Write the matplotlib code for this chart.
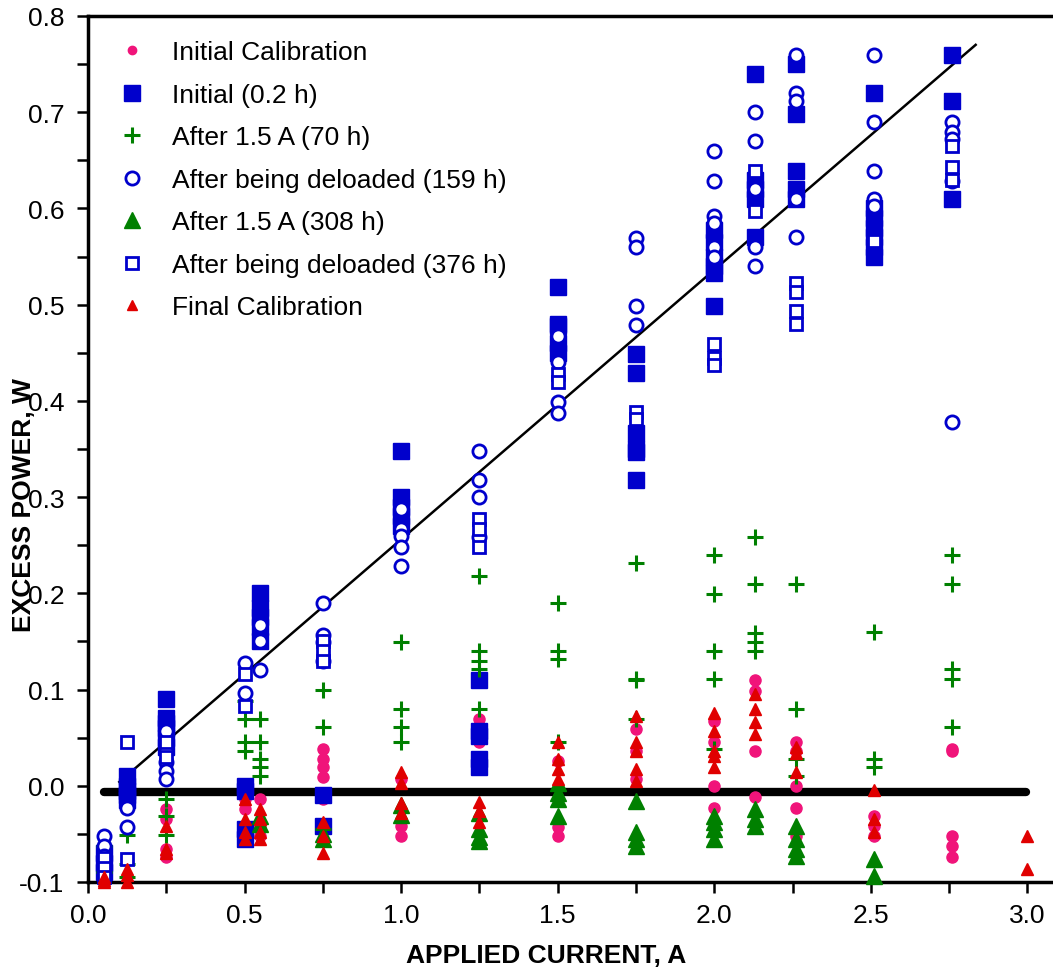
import matplotlib
matplotlib.use("Agg")
import matplotlib.pyplot as plt
from matplotlib.ticker import MultipleLocator, FormatStrFormatter

plt.rcParams['font.family'] = ['Liberation Sans', 'DejaVu Sans']

### Data (excess power in W, keyed by applied current in A)
init_cal = {0.25: [-0.024, -0.035, -0.066, -0.074],
            0.5: [0.0, -0.014, -0.024],
            0.55: [-0.014, -0.043, -0.052],
            0.75: [0.038, 0.028, 0.019, 0.009, -0.014],
            1.0: [0.007, -0.042, -0.052],
            1.25: [0.069, 0.059, 0.046],
            1.5: [0.026, -0.043, -0.052],
            1.75: [0.059, 0.036, 0.007],
            2.0: [0.067, 0.046, 0.0, -0.023],
            2.13: [0.11, 0.098, 0.036, -0.012],
            2.26: [0.046, 0.036, 0.0, -0.023, -0.052],
            2.51: [-0.031, -0.042, -0.052],
            2.76: [0.038, 0.036, -0.052, -0.063, -0.074]}

initial_02h = {0.05: [-0.07, -0.08, -0.09],
               0.125: [0.01, 0.0, -0.005, -0.01, -0.015],
               0.25: [0.09, 0.07, 0.065, 0.06, 0.05, 0.04],
               0.5: [0.0, -0.005, -0.045, -0.055],
               0.55: [0.2, 0.185, 0.175, 0.165, 0.15],
               0.75: [-0.01, -0.042],
               1.0: [0.348, 0.3, 0.29, 0.28, 0.27],
               1.25: [0.11, 0.057, 0.052, 0.028, 0.02],
               1.5: [0.518, 0.48, 0.478, 0.46, 0.45],
               1.75: [0.449, 0.429, 0.367, 0.35, 0.347, 0.318],
               2.0: [0.578, 0.565, 0.55, 0.54, 0.533, 0.499],
               2.13: [0.74, 0.63, 0.62, 0.61, 0.57],
               2.26: [0.75, 0.698, 0.639, 0.62, 0.61],
               2.51: [0.72, 0.6, 0.59, 0.58, 0.57, 0.56, 0.55],
               2.76: [0.759, 0.712, 0.61]}

after_70h = {0.05: [-0.063, -0.09],
             0.125: [-0.051, -0.081, -0.095],
             0.25: [-0.014, -0.031, -0.051],
             0.5: [0.088, 0.069, 0.045, 0.036],
             0.55: [0.069, 0.045, 0.028, 0.019, 0.01],
             0.75: [0.1, 0.061, -0.045],
             1.0: [0.149, 0.08, 0.061, 0.045],
             1.25: [0.218, 0.14, 0.13, 0.121, 0.08],
             1.5: [0.19, 0.14, 0.132, 0.046],
             1.75: [0.231, 0.111, 0.11, 0.069],
             2.0: [0.24, 0.199, 0.14, 0.111, 0.038],
             2.13: [0.259, 0.21, 0.159, 0.149, 0.14],
             2.26: [0.21, 0.08, 0.028, 0.01],
             2.51: [0.16, 0.028, 0.019],
             2.76: [0.24, 0.21, 0.121, 0.111, 0.061]}

deloaded_159h = {0.05: [-0.052, -0.063, -0.073, -0.083, -0.094],
                 0.125: [-0.023, -0.043],
                 0.25: [0.057, 0.036, 0.025, 0.015, 0.007],
                 0.5: [0.128, 0.096],
                 0.55: [0.167, 0.15, 0.12],
                 0.75: [0.19, 0.157, 0.149, 0.13],
                 1.0: [0.288, 0.267, 0.26, 0.248, 0.228],
                 1.25: [0.348, 0.318, 0.3, 0.259],
                 1.5: [0.467, 0.44, 0.399, 0.387],
                 1.75: [0.569, 0.56, 0.499, 0.479],
                 2.0: [0.66, 0.628, 0.592, 0.585, 0.56, 0.55],
                 2.13: [0.7, 0.67, 0.62, 0.56, 0.54],
                 2.26: [0.759, 0.72, 0.712, 0.61, 0.57],
                 2.51: [0.759, 0.69, 0.639, 0.61, 0.603],
                 2.76: [0.69, 0.679, 0.672, 0.629, 0.378]}

after_308h = {0.55: [-0.031, -0.04],
              0.75: [-0.05, -0.055],
              1.0: [-0.02, -0.03],
              1.25: [-0.028, -0.045, -0.053, -0.057],
              1.5: [0.003, -0.007, -0.014, -0.031],
              1.75: [-0.016, -0.048, -0.055, -0.063],
              2.0: [-0.031, -0.038, -0.045, -0.055],
              2.13: [-0.024, -0.035, -0.042],
              2.26: [-0.042, -0.055, -0.066, -0.073],
              2.51: [-0.076, -0.094]}

deloaded_376h = {0.05: [-0.075, -0.085, -0.095],
                 0.125: [0.046, -0.076],
                 0.25: [0.045, 0.03],
                 0.5: [0.116, 0.083],
                 0.75: [0.15, 0.14, 0.13],
                 1.25: [0.277, 0.267, 0.248],
                 1.5: [0.428, 0.42],
                 1.75: [0.388, 0.381],
                 2.0: [0.459, 0.445, 0.437],
                 2.13: [0.639, 0.597],
                 2.26: [0.523, 0.513, 0.493, 0.48],
                 2.51: [0.566],
                 2.76: [0.665, 0.643, 0.63]}

final_cal = {0.05: [-0.095, -0.1, -0.098],
             0.125: [-0.087, -0.093, -0.1],
             0.25: [-0.042, -0.066, -0.07],
             0.5: [-0.014, -0.035, -0.048, -0.055],
             0.55: [-0.024, -0.035, -0.048, -0.055],
             0.75: [-0.038, -0.052, -0.07],
             1.0: [0.014, 0.003, -0.018, -0.028],
             1.25: [-0.017, -0.026, -0.038],
             1.5: [0.046, 0.028, 0.017, 0.007],
             1.75: [0.072, 0.046, 0.036, 0.017, 0.005],
             2.0: [0.076, 0.057, 0.036, 0.031, 0.019],
             2.13: [0.095, 0.08, 0.066, 0.054],
             2.26: [0.04, 0.034, 0.014],
             2.51: [-0.004, -0.035, -0.048],
             3.0: [-0.052, -0.087]}

# fitted line and zero reference line
fit_x = [0.10, 2.835]
fit_y = [0.004, 0.77]
zero_x = [0.05, 2.995]
zero_y = [-0.006, -0.006]


def flat(d):
    xs, ys = [], []
    for k, v in d.items():
        xs += [k] * len(v)
        ys += v
    return xs, ys


PINK = '#F0147A'
BLUE = '#0000CC'
GREEN = '#008000'
RED = '#E00000'

fig = plt.figure(figsize=(10.53, 9.70), dpi=100)
ax = fig.add_axes([0.0836, 0.0897, 0.9164, 0.8928])

series = [
    (init_cal, 'Initial Calibration', dict(marker='o', ms=8, color=PINK, mec=PINK)),
    (initial_02h, 'Initial (0.2 h)', dict(marker='s', ms=12, color=BLUE, mec=BLUE)),
    (after_70h, 'After 1.5 A (70 h)', dict(marker='+', ms=12, mew=2.2, color=GREEN)),
    (deloaded_159h, 'After being deloaded (159 h)', dict(marker='o', ms=9.5, mew=2, color=BLUE, mfc='white')),
    (after_308h, 'After 1.5 A (308 h)', dict(marker='^', ms=12, color=GREEN, mec=GREEN)),
    (deloaded_376h, 'After being deloaded (376 h)', dict(marker='s', ms=9, mew=2, color=BLUE, mfc='white')),
    (final_cal, 'Final Calibration', dict(marker='^', ms=9, color=RED, mec=RED)),
]

handles = []
for i, (d, lab, kw) in enumerate(series):
    xs, ys = flat(d)
    h, = ax.plot(xs, ys, ls='none', label=lab, clip_on=False, zorder=3 + i, **kw)
    handles.append(h)

ax.plot(fit_x, fit_y, color='black', lw=1.8, zorder=2)
ax.plot(zero_x, zero_y, color='black', lw=6, solid_capstyle='round', zorder=2.5)

ax.set_xlim(0, 3.082)
ax.set_ylim(-0.1, 0.8)
ax.xaxis.set_major_locator(MultipleLocator(0.5))
ax.xaxis.set_minor_locator(MultipleLocator(0.25))
ax.yaxis.set_major_locator(MultipleLocator(0.1))
ax.yaxis.set_minor_locator(MultipleLocator(0.05))
ax.xaxis.set_major_formatter(FormatStrFormatter('%.1f'))
ax.yaxis.set_major_formatter(FormatStrFormatter('%.1f'))

ax.spines['right'].set_visible(False)
for s in ['left', 'bottom', 'top']:
    ax.spines[s].set_linewidth(2.5)
ax.tick_params(which='both', direction='out', width=1.8, length=8,
               top=False, right=False)
ax.tick_params(which='major', labelsize=19)
ax.tick_params(axis='x', pad=7)
ax.tick_params(axis='y', pad=9)

ax.set_xlabel('APPLIED CURRENT, A', fontsize=19, fontweight='bold', va='center')
ax.xaxis.set_label_coords(0.4746, -0.084)
ax.set_ylabel('EXCESS POWER, W', fontsize=19, fontweight='bold', va='center')
ax.yaxis.set_label_coords(-0.066, 0.436)

leg = ax.legend(handles=handles, loc='upper left', bbox_to_anchor=(0.021, 0.984),
                frameon=False, fontsize=19, labelspacing=0.7, handlelength=1.0,
                handletextpad=1.0, borderaxespad=0, numpoints=1)
leg.legend_handles[0].set_markersize(6)
leg.legend_handles[6].set_markersize(7)

fig.savefig('out.png', dpi=100)
